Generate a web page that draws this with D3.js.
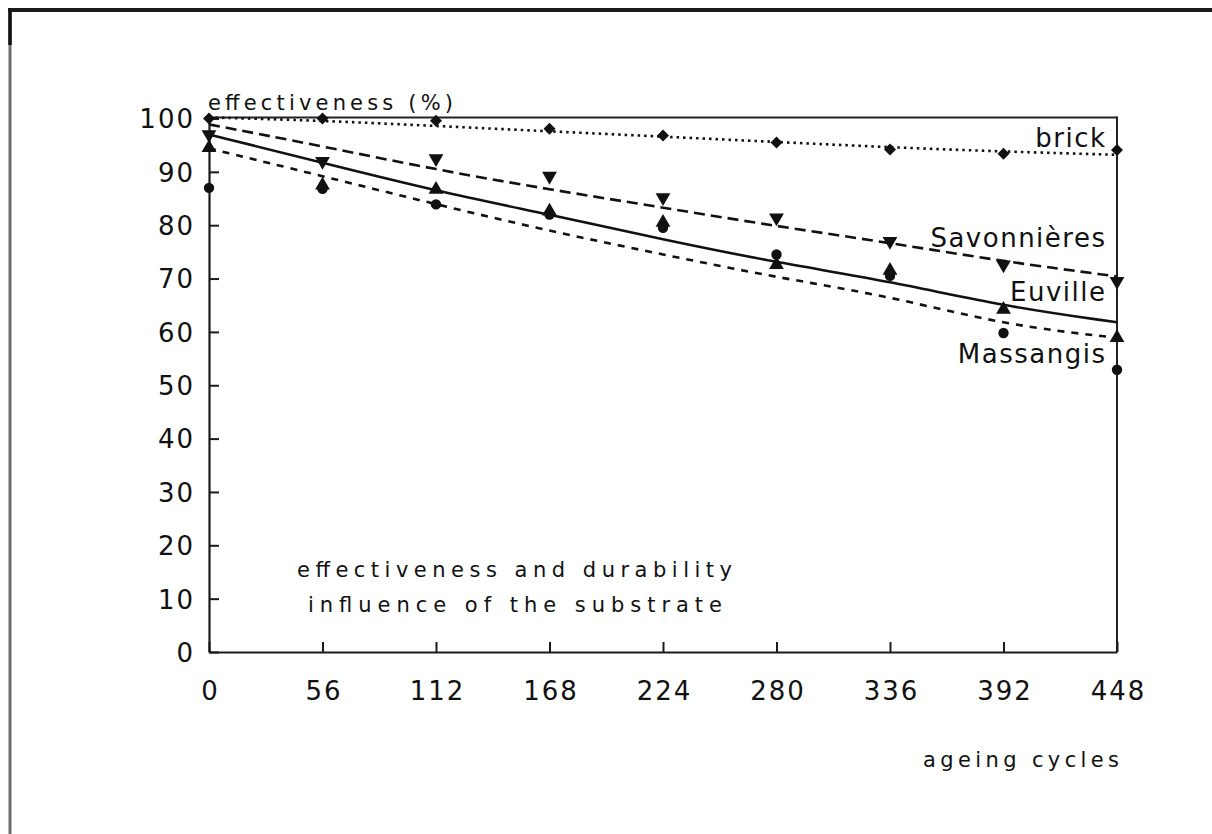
<!DOCTYPE html>
<html>
<head>
<meta charset="utf-8">
<script src="https://cdn.jsdelivr.net/npm/d3@7"></script>
<style>
	body { margin: 0; background: #fff; }
	text { font-family: "DejaVu Sans", sans-serif; fill: #111; }
</style>
</head>
<body>
<div id="chart"></div>
<script>
// Data
const cycles = [0, 56, 112, 168, 224, 280, 336, 392, 448];
const yTicks = [0, 10, 20, 30, 40, 50, 60, 70, 80, 90, 100];

// measured points
const brickPts = [100, 100, 99.6, 98.1, 96.8, 95.5, 94.2, 93.4, 94.1];
const savonPts = [97, 92, 92.5, 89.2, 85.2, 81.4, 77, 72.6, 69.5];
const euvillePts = [94.5, 87.5, 86.7, 82.6, 80.5, 72.6, 71.5, 64.2, 58.9];
const massPts = [87, 86.8, 83.9, 82, 79.5, 74.5, 70.5, 59.8, 52.9];

// fitted curves
const brickFit = [100.2, 99.6, 98.6, 97.6, 96.6, 95.6, 94.6, 93.8, 93.2];
const savonFit = [98.9, 94.8, 90.4, 86.7, 83.3, 79.8, 76.7, 73.2, 70.4];
const euvilleFit = [97, 91.7, 86.4, 82, 77.3, 73, 69.5, 64.8, 61.8];
const massFit = [94.4, 89.2, 83.9, 78.9, 74.5, 70.2, 66.7, 61.3, 58.9];

const seriesNames = ["brick", "Savonnières", "Euville", "Massangis"];

const width = 1212, height = 834;
const margin = { left: 209, right: 1117, top: 118.5, bottom: 652 };

const x = d3.scaleLinear().domain([0, 448]).range([margin.left, margin.right]);
const y = d3.scaleLinear().domain([0, 100]).range([margin.bottom, margin.top]);

const svg = d3.select("#chart").append("svg")
	.attr("width", width)
	.attr("height", height);

// outer page border (top + left)
svg.append("line")
	.attr("x1", 8).attr("x2", width).attr("y1", 10).attr("y2", 10)
	.attr("stroke", "#1a1a1a").attr("stroke-width", 4);
svg.append("line")
	.attr("x1", 10).attr("x2", 10).attr("y1", 8).attr("y2", height)
	.attr("stroke", "#6e6e6e").attr("stroke-width", 3);
svg.append("line")
	.attr("x1", 10).attr("x2", 10).attr("y1", 8).attr("y2", 45)
	.attr("stroke", "#111").attr("stroke-width", 3.5);

// plot frame: top and right
svg.append("line")
	.attr("x1", x(0)).attr("x2", x(448)).attr("y1", y(100) - 1).attr("y2", y(100) - 1)
	.attr("stroke", "#222").attr("stroke-width", 2);
svg.append("line")
	.attr("x1", x(448)).attr("x2", x(448)).attr("y1", y(100) - 2).attr("y2", y(0))
	.attr("stroke", "#222").attr("stroke-width", 2);

// axes
const yAxis = d3.axisLeft(y).tickValues(yTicks).tickSizeInner(-10).tickSizeOuter(0).tickPadding(14);
const xAxis = d3.axisBottom(x).tickValues(cycles).tickSizeInner(-10).tickSizeOuter(0).tickPadding(30);

const gy = svg.append("g").attr("transform", `translate(${x(0)},0)`).call(yAxis);
const gx = svg.append("g").attr("transform", `translate(0,${y(0)})`).call(xAxis);

[gy, gx].forEach(g => {
	g.select(".domain").attr("stroke", "#1a1a1a").attr("stroke-width", 2.2);
	g.selectAll(".tick line").attr("stroke", "#1a1a1a").attr("stroke-width", 2);
	g.selectAll(".tick text")
		.style("font-family", "'DejaVu Sans', sans-serif")
		.style("font-size", "26px")
		.style("letter-spacing", "2px")
		.attr("fill", "#111");
});
gy.selectAll(".tick text").attr("dy", "0.36em");
gx.selectAll(".tick text").attr("dx", "1px");

// lines
const line = d3.line()
	.x((d, i) => x(cycles[i]))
	.y(d => y(d))
	.curve(d3.curveBasis);

const fits = [
	{ vals: brickFit, dash: "2.5,4", w: 2.6 },
	{ vals: savonFit, dash: "11,6", w: 2.6 },
	{ vals: euvilleFit, dash: null, w: 2.6 },
	{ vals: massFit, dash: "7,7", w: 2.6 }
];

svg.append("g").selectAll("path")
	.data(fits)
	.join("path")
	.attr("d", d => line(d.vals))
	.attr("fill", "none")
	.attr("stroke", "#111")
	.attr("stroke-width", d => d.w)
	.attr("stroke-dasharray", d => d.dash);

// markers
const markerSets = [
	{ vals: brickPts, type: d3.symbolSquare, size: 72, rot: 45 },
	{ vals: savonPts, type: d3.symbolTriangle, size: 95, rot: 180 },
	{ vals: euvillePts, type: d3.symbolTriangle, size: 95, rot: 0 },
	{ vals: massPts, type: d3.symbolCircle, size: 85, rot: 0 }
];

markerSets.forEach(ms => {
	svg.append("g").selectAll("path")
		.data(ms.vals)
		.join("path")
		.attr("d", d3.symbol().type(ms.type).size(ms.size))
		.attr("transform", (d, i) => `translate(${x(cycles[i])},${y(d)}) rotate(${ms.rot})`)
		.attr("fill", "#111");
});

// series labels
const labelPos = [
	{ text: seriesNames[0], x: 1105, y: 147 },
	{ text: seriesNames[1], x: 1105, y: 247 },
	{ text: seriesNames[2], x: 1105, y: 301 },
	{ text: seriesNames[3], x: 1105, y: 363 }
];
svg.append("g").selectAll("text")
	.data(labelPos)
	.join("text")
	.attr("x", d => d.x + 1.5)
	.attr("y", d => d.y)
	.attr("text-anchor", "end")
	.style("font-size", "26px")
	.style("letter-spacing", "1.5px")
	.text(d => d.text);

// axis titles
svg.append("text")
	.attr("x", 208).attr("y", 110)
	.attr("textLength", 245)
	.attr("lengthAdjust", "spacing")
	.style("font-size", "21px")
	.text("effectiveness (%)");

svg.append("text")
	.attr("x", 923).attr("y", 767)
	.attr("textLength", 196)
	.attr("lengthAdjust", "spacing")
	.style("font-size", "21px")
	.text("ageing cycles");

// annotation
svg.append("text")
	.attr("x", 297).attr("y", 577)
	.attr("textLength", 435)
	.attr("lengthAdjust", "spacing")
	.style("font-size", "21px")
	.text("effectiveness and durability");
svg.append("text")
	.attr("x", 308).attr("y", 612)
	.attr("textLength", 414)
	.attr("lengthAdjust", "spacing")
	.style("font-size", "21px")
	.text("influence of the substrate");
</script>
</body>
</html>
